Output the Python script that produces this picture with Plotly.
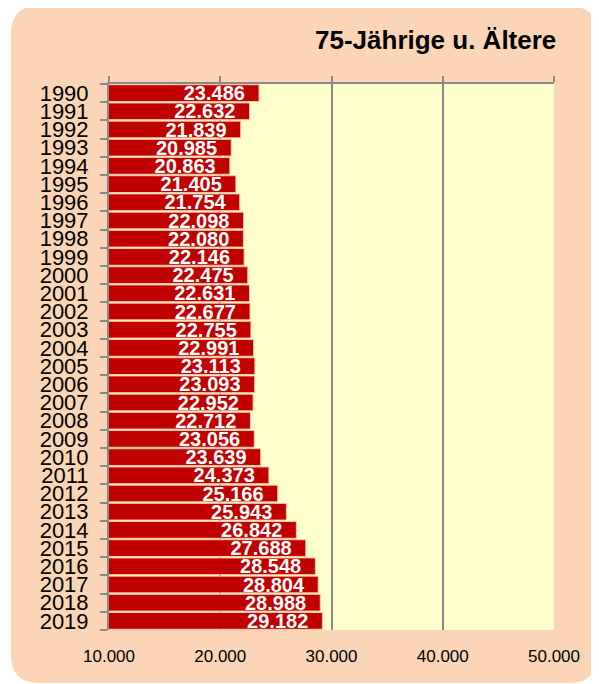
import plotly.graph_objects as go

YEARS = [str(y) for y in range(1990, 2020)]
VALUES = [
    23486, 22632, 21839, 20985, 20863, 21405, 21754, 22098, 22080, 22146,
    22475, 22631, 22677, 22755, 22991, 23113, 23093, 22952, 22712, 23056,
    23639, 24373, 25166, 25943, 26842, 27688, 28548, 28804, 28988, 29182,
]
X_TICKS = [10000, 20000, 30000, 40000, 50000]
X_TICK_LABELS = ["10.000", "20.000", "30.000", "40.000", "50.000"]
TITLE = "75-Jährige u. Ältere"

PEACH = "#FBD5B5"
PLOT_BG = "#FFFFCC"
BAR_RED = "#C00000"
GRID = "#898989"

# ページ本体の余白 (8px) 分を差し引いた図のサイズ
OFF = 8
W, H = 599 - OFF, 684 - OFF
L, R, T, B = 109 - OFF, 45, 84 - OFF, 54


def _rounded_box(x0, y0, x1, y1, r):
    """画素座標 (ページ基準) の角丸矩形 -> paper 座標 path."""
    pw, ph = W - L - R, H - T - B

    def px(x):
        return (x - OFF - L) / pw

    def py(y):
        return (H - B - (y - OFF)) / ph

    pts = [
        f"M {px(x0 + r)},{py(y0)}",
        f"L {px(x1 - r)},{py(y0)}",
        f"Q {px(x1)},{py(y0)} {px(x1)},{py(y0 + r)}",
        f"L {px(x1)},{py(y1 - r)}",
        f"Q {px(x1)},{py(y1)} {px(x1 - r)},{py(y1)}",
        f"L {px(x0 + r)},{py(y1)}",
        f"Q {px(x0)},{py(y1)} {px(x0)},{py(y1 - r)}",
        f"L {px(x0)},{py(y0 + r)}",
        f"Q {px(x0)},{py(y0)} {px(x0 + r)},{py(y0)}",
        "Z",
    ]
    return " ".join(pts)


fig = go.Figure()
fig.add_trace(
    go.Bar(
        x=VALUES,
        y=YEARS,
        orientation="h",
        marker=dict(color=BAR_RED, line=dict(color="#F6C9A8", width=1)),
        texttemplate="%{x:,.0f}\u00a0\u00a0",
        textposition="inside",
        insidetextanchor="end",
        constraintext="none",
        textfont=dict(family="Liberation Sans", size=20, color="white", weight="bold"),
        cliponaxis=False,
        showlegend=False,
    )
)
# 上側の軸線 + 目盛り用のダミー
fig.add_trace(
    go.Scatter(x=[10000, 50000], y=[YEARS[0], YEARS[0]], xaxis="x2",
               mode="markers", marker=dict(opacity=0), showlegend=False, hoverinfo="skip")
)

fig.add_shape(
    type="path",
    path=_rounded_box(11, 6, 597, 683, 28),
    xref="paper", yref="paper",
    fillcolor=PEACH, line=dict(width=0), layer="below",
)
fig.add_shape(
    type="rect", x0=0, x1=1, y0=0, y1=1,
    xref="paper", yref="paper",
    fillcolor=PLOT_BG, line=dict(width=0), layer="below",
)

fig.update_layout(
    width=W, height=H,
    margin=dict(l=L, r=R, t=T, b=B, autoexpand=False),
    paper_bgcolor="white",
    plot_bgcolor=PLOT_BG,
    separators=",.",
    bargap=0.08,
    font=dict(family="Liberation Sans", color="black"),
    xaxis=dict(
        range=[10000, 50000],
        tickvals=X_TICKS,
        ticktext=X_TICK_LABELS,
        showgrid=True, gridcolor=GRID, gridwidth=2,
        zeroline=False, showline=False, ticks="",
        tickfont=dict(size=17),
        ticklabelstandoff=14,
    ),
    xaxis2=dict(
        range=[10000, 50000], overlaying="x", side="top",
        tickvals=X_TICKS, showticklabels=False, showgrid=False,
        showline=True, linecolor=GRID, linewidth=2,
        ticks="outside", ticklen=6, tickwidth=2, tickcolor=GRID,
        zeroline=False,
    ),
    yaxis=dict(
        categoryorder="array", categoryarray=YEARS,
        range=[len(YEARS) - 0.5, -0.5], autorange=False,
        tickmode="array", tickvals=YEARS,
        showline=True, linecolor=GRID, linewidth=2,
        ticks="outside", ticklen=7, tickwidth=2, tickcolor=GRID,
        tickson="boundaries",
        tickfont=dict(size=22),
        ticklabelstandoff=14,
        showgrid=False,
    ),
    annotations=[
        dict(
            text=f"<b>{TITLE}</b>", xref="paper", yref="paper",
            x=(435 - OFF - L) / (W - L - R), y=(H - B - (40 - OFF)) / (H - T - B),
            xanchor="center", yanchor="middle", showarrow=False,
            font=dict(family="Liberation Sans", size=26, color="black"),
        )
    ],
)

fig.write_html("out.html")
